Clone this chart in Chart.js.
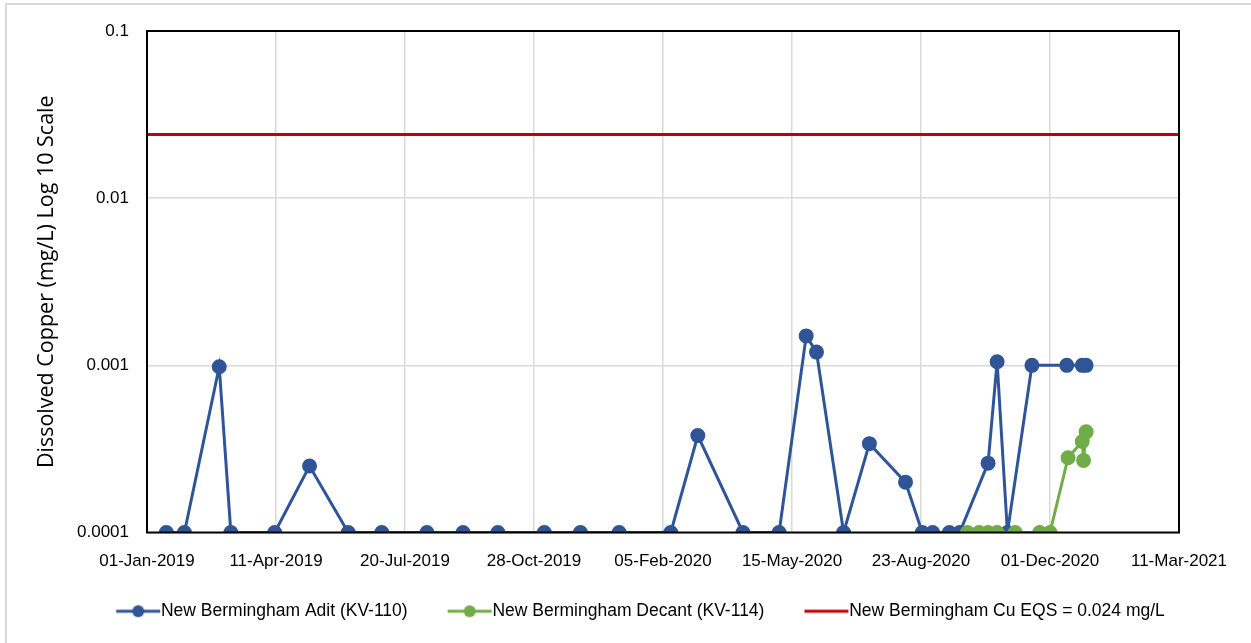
<!DOCTYPE html>
<html>
<head>
<meta charset="utf-8">
<script src="https://cdn.jsdelivr.net/npm/chart.js@4.4.1/dist/chart.umd.min.js"></script>
<style>
  html, body { margin: 0; padding: 0; background: #fff; }
  #wrap { position: relative; width: 1251px; height: 643px; overflow: hidden; }
  #frame { position: absolute; left: 5px; top: 3px; width: 1300px; height: 700px;
           border-top: 2px solid #d9d9d9; border-left: 2px solid #d9d9d9; }
  canvas { position: absolute; left: 0; top: 0; }
</style>
</head>
<body>
<div id="wrap">
  <div id="frame"></div>
  <canvas id="chart" width="1251" height="643"></canvas>
</div>
<script>
// sample dates + dissolved copper (mg/L)
const aditDates = ['2019-01-16', '2019-01-30', '2019-02-26', '2019-03-07', '2019-04-10', '2019-05-07',
  '2019-06-06', '2019-07-02', '2019-08-06', '2019-09-03', '2019-09-30', '2019-11-05', '2019-12-03',
  '2020-01-02', '2020-02-11', '2020-03-03', '2020-04-07', '2020-05-05', '2020-05-26', '2020-06-03',
  '2020-06-24', '2020-07-14', '2020-08-11', '2020-08-24', '2020-09-01', '2020-09-14', '2020-09-22',
  '2020-10-14', '2020-10-21', '2020-10-29', '2020-11-17', '2020-12-14', '2020-12-26', '2020-12-29'];
const aditValues = [0.0001, 0.0001, 0.00098, 0.0001, 0.0001, 0.00025,
  0.0001, 0.0001, 0.0001, 0.0001, 0.0001, 0.0001, 0.0001,
  0.0001, 0.0001, 0.00038, 0.0001, 0.0001, 0.0015, 0.0012,
  0.0001, 0.00034, 0.0002, 0.0001, 0.0001, 0.0001, 0.0001,
  0.00026, 0.00105, 0.0001, 0.001, 0.001, 0.001, 0.001];

const decantDates = ['2020-09-28', '2020-10-07', '2020-10-14', '2020-10-21', '2020-11-04', '2020-11-23',
  '2020-12-01', '2020-12-15', '2020-12-26', '2020-12-27', '2020-12-29'];
const decantValues = [0.0001, 0.0001, 0.0001, 0.0001, 0.0001, 0.0001,
  0.0001, 0.00028, 0.00035, 0.00027, 0.0004];

const eqsValue = 0.024;
const xStart = '2019-01-01';
const xEnd = '2021-03-11';
const xStepDays = 100;
const yTicks = [0.0001, 0.001, 0.01, 0.1];

const seriesNames = ['New Bermingham Adit (KV-110)', 'New Bermingham Decant (KV-114)', 'New Bermingham Cu EQS = 0.024 mg/L'];
const colors = ['#2F5597', '#70AD47', '#C00000'];

const months = ['Jan', 'Feb', 'Mar', 'Apr', 'May', 'Jun', 'Jul', 'Aug', 'Sep', 'Oct', 'Nov', 'Dec'];
const DAY = 86400000;
function toMs(s) {
  const p = s.split('-').map(Number);
  return Date.UTC(p[0], p[1] - 1, p[2]);
}
const t0 = toMs(xStart);
function dayNum(s) { return (toMs(s) - t0) / DAY; }
function fmtDay(d) {
  const dt = new Date(t0 + d * DAY);
  const dd = String(dt.getUTCDate()).padStart(2, '0');
  return dd + '-' + months[dt.getUTCMonth()] + '-' + dt.getUTCFullYear();
}
function pts(dates, vals) { return dates.map((d, i) => ({ x: dayNum(d), y: vals[i] })); }

// legend icon: line with (optional) marker, drawn off centre so the text sits close
function legendIcon(color, marker) {
  const c = document.createElement('canvas');
  c.width = 84; c.height = 16;
  const g = c.getContext('2d');
  g.strokeStyle = color;
  g.lineWidth = 3;
  g.beginPath();
  g.moveTo(39, 8); g.lineTo(83, 8);
  g.stroke();
  if (marker) {
    g.fillStyle = color;
    g.beginPath();
    g.arc(61, 8, 6, 0, Math.PI * 2);
    g.fill();
  }
  return c;
}
const icons = [legendIcon(colors[0], true), legendIcon(colors[1], true), legendIcon(colors[2], false)];

const framePlugin = {
  id: 'frame',
  afterDatasetsDraw(chart) {
    const a = chart.chartArea, ctx = chart.ctx;
    ctx.save();
    ctx.strokeStyle = '#000';
    ctx.lineWidth = 2;
    ctx.strokeRect(a.left, a.top, a.right - a.left, a.bottom - a.top);
    ctx.restore();
  }
};

const tickFont = { family: '"Liberation Sans", Arial, sans-serif', size: 17 };

new Chart(document.getElementById('chart'), {
  type: 'line',
  data: {
    datasets: [
      {
        label: seriesNames[0],
        data: pts(aditDates, aditValues),
        borderColor: colors[0], backgroundColor: colors[0],
        borderWidth: 3, pointRadius: 6, pointHoverRadius: 6,
        order: 2
      },
      {
        label: seriesNames[1],
        data: pts(decantDates, decantValues),
        borderColor: colors[1], backgroundColor: colors[1],
        borderWidth: 3, pointRadius: 6, pointHoverRadius: 6,
        order: 1
      },
      {
        label: seriesNames[2],
        data: [{ x: 0, y: eqsValue }, { x: dayNum(xEnd), y: eqsValue }],
        borderColor: colors[2], backgroundColor: colors[2],
        borderWidth: 3, pointRadius: 0,
        order: 0
      }
    ]
  },
  options: {
    responsive: false,
    animation: false,
    layout: { padding: { top: 31, left: 0, right: 0, bottom: 13 } },
    scales: {
      x: {
        type: 'linear',
        min: 0,
        max: dayNum(xEnd),
        afterBuildTicks: scale => {
          const t = [];
          for (let d = 0; d <= dayNum(xEnd); d += xStepDays) t.push({ value: d });
          scale.ticks = t;
        },
        afterFit: scale => { scale.height = 60; },
        ticks: { callback: v => fmtDay(v), color: '#000', font: tickFont, padding: 19, maxRotation: 0, autoSkip: false },
        grid: { color: '#d9d9d9', lineWidth: 1.5, drawTicks: false },
        border: { display: false }
      },
      y: {
        type: 'logarithmic',
        min: 0.0001,
        max: 0.1,
        afterBuildTicks: scale => { scale.ticks = yTicks.map(v => ({ value: v })); },
        afterFit: scale => { scale.width = 147; },
        ticks: { callback: v => String(v), color: '#000', font: tickFont, padding: 18 },
        grid: { color: '#d9d9d9', lineWidth: 1.5, drawTicks: false },
        border: { display: false },
        title: {
          display: true,
          text: 'Dissolved Copper (mg/L) Log 10 Scale',
          color: '#000',
          font: { family: '"Open Sans", sans-serif', size: 21.5 },
          padding: { top: 34, bottom: 0 }
        }
      },
      yR: {
        type: 'linear',
        position: 'right',
        display: true,
        afterFit: scale => { scale.width = 72; },
        ticks: { display: false },
        grid: { display: false, drawOnChartArea: false },
        border: { display: false }
      }
    },
    plugins: {
      legend: {
        position: 'bottom',
        labels: {
          color: '#000',
          font: { family: '"Liberation Sans", Arial, sans-serif', size: 17.5 },
          usePointStyle: true,
          pointStyleWidth: 66,
          padding: 10,
          sort: (a, b) => a.datasetIndex - b.datasetIndex,
          generateLabels: chart => {
            const items = Chart.defaults.plugins.legend.labels.generateLabels(chart);
            items.forEach(it => { it.pointStyle = icons[it.datasetIndex]; });
            return items;
          }
        }
      },
      tooltip: { enabled: false }
    }
  },
  plugins: [framePlugin]
});
</script>
</body>
</html>
